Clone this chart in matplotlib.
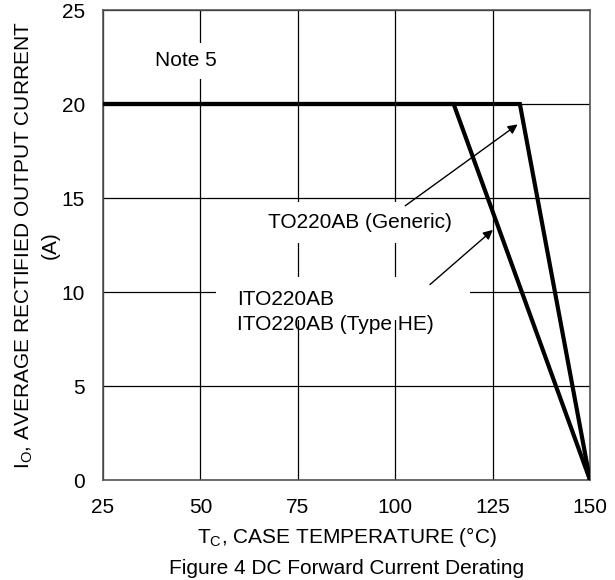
import matplotlib.pyplot as plt
from matplotlib.patches import Rectangle

plt.rcParams['font.family'] = ['Liberation Sans', 'DejaVu Sans']
plt.rcParams['mathtext.fontset'] = 'custom'
plt.rcParams['mathtext.rm'] = 'Liberation Sans'

# derating curves: (case temperature, output current)
ito_temp = [25, 115, 150]
ito_current = [20, 20, 0]
to_temp = [25, 132, 150]
to_current = [20, 20, 0]

x_ticks = [25, 50, 75, 100, 125, 150]
y_ticks = [0, 5, 10, 15, 20, 25]

FS = 15

fig = plt.figure(figsize=(6.15, 5.8), dpi=100)
ax = fig.add_axes([103 / 615, 100 / 580, 487 / 615, 470 / 580])

ax.plot(ito_temp, ito_current, color='black', lw=3, solid_joinstyle='miter', zorder=4)
ax.plot(to_temp, to_current, color='black', lw=3, solid_joinstyle='miter', zorder=4)

ax.set_xlim(25, 150)
ax.set_ylim(0, 25)
ax.set_xticks(x_ticks)
ax.set_yticks(y_ticks)
ax.tick_params(length=0, labelsize=FS)
ax.tick_params(axis='x', pad=13)
ax.tick_params(axis='y', pad=13)
ax.grid(True, color='black', lw=0.9)
ax.set_axisbelow(True)
for sp in ax.spines.values():
    sp.set_color('#555555')
    sp.set_linewidth(1.2)

ax.set_xlabel('T$_\\mathrm{C}$, CASE TEMPERATURE (\u00b0C)', fontsize=FS, labelpad=6)
ax.set_ylabel('I$_\\mathrm{O}$, AVERAGE RECTIFIED OUTPUT CURRENT\n(A)', fontsize=FS,
              labelpad=1, linespacing=1.4)
fig.text(0.5 * (103 + 590) / 615, 1 - 568 / 580, 'Figure 4 DC Forward Current Derating',
         ha='center', va='center', fontsize=FS)

# white mask behind the label block (hides grid lines like the original)
ax.add_patch(Rectangle((54, 8.5), 65.2, 2.3, facecolor='white', edgecolor='none', zorder=2))

ax.text(38.3, 22.3, 'Note 5', fontsize=FS, va='center', zorder=3,
        bbox=dict(facecolor='white', edgecolor='none', pad=6))
ax.text(67.4, 13.7, 'TO220AB (Generic)', fontsize=FS, va='center', zorder=3,
        bbox=dict(facecolor='white', edgecolor='none', pad=8))
ax.text(59.4, 9.6, 'ITO220AB', fontsize=FS, va='center', zorder=3)
ax.text(59.4, 8.25, 'ITO220AB (Type HE)', fontsize=FS, va='center', zorder=3)

arrow = dict(arrowstyle='-|>', color='black', lw=1, mutation_scale=14)
ax.annotate('', xy=(132, 19.0), xytext=(102, 14.5), arrowprops=arrow, zorder=5)
ax.annotate('', xy=(125.6, 13.4), xytext=(108.4, 10.3), arrowprops=arrow, zorder=5)

fig.savefig('out.png', dpi=100)
